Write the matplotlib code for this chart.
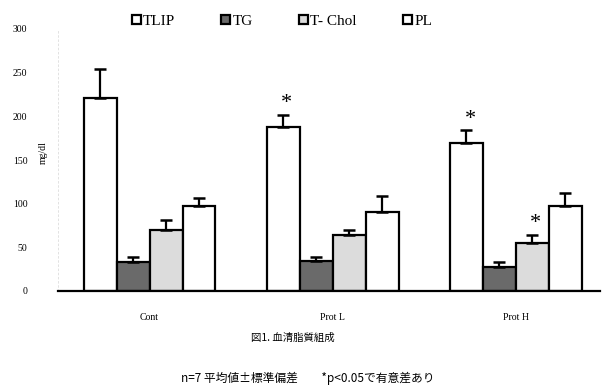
#血清脂質組成のグラフ
import matplotlib.pyplot as plt
import numpy as np

plt.rcParams['font.family'] = ['Liberation Serif', 'Noto Sans CJK JP', 'DejaVu Sans']

groups = ["Cont", "Prot L", "Prot H"]
series = ["TLIP", "TG", "T-Chol", "PL"]
means = {
    "TLIP": [221, 188, 169],
    "TG": [33, 34, 27],
    "T-Chol": [70, 64, 55],
    "PL": [97, 90, 97],
}
errs = {
    "TLIP": [33, 14, 15],
    "TG": [6, 5, 6],
    "T-Chol": [11, 6, 9],
    "PL": [9, 19, 15],
}
# 有意差のある棒 (系列, 群)
signif = [("TLIP", 1), ("TLIP", 2), ("T-Chol", 2)]

colors = {"TLIP": "white", "TG": "#6a6a6a", "T-Chol": "#dcdcdc", "PL": "white"}

fig = plt.figure(figsize=(6.03, 3.89), dpi=100)
ax = fig.add_axes([58 / 603, 1 - 291 / 389, 542 / 603, 262 / 389])

x = np.arange(len(groups))
w = 0.18
for i, s in enumerate(series):
    pos = x + (i - 1.5) * w
    ax.bar(pos, means[s], w, color=colors[s], edgecolor="black", linewidth=1.6,
           label=s.replace("-", "- "), zorder=2)
    ax.errorbar(pos, means[s], yerr=[np.zeros(3), errs[s]], fmt="none",
                ecolor="black", elinewidth=1.6, capsize=4, capthick=1.8, zorder=3)

for s, g in signif:
    i = series.index(s)
    top = means[s][g] + errs[s][g]
    ax.text(x[g] + (i - 1.5) * w + 0.02, top + 2, "*", fontsize=16,
            ha="center", va="bottom")

ax.set_xlim(-0.5, 2.46)
ax.set_ylim(0, 300)
ax.set_yticks(range(0, 301, 50))
ax.tick_params(axis="y", length=0, labelsize=7, pad=22)
ax.tick_params(axis="x", length=0, labelsize=7, pad=16)
ax.set_xticks(x)
ax.set_xticklabels(groups)
for sp in ["top", "right"]:
    ax.spines[sp].set_visible(False)
ax.spines["left"].set_color("#dddddd")
ax.spines["left"].set_linewidth(0.6)
ax.spines["left"].set_linestyle((0, (2, 3)))
ax.spines["bottom"].set_linewidth(1.6)

ax.text(-0.028, 0.53, "mg/dl", transform=ax.transAxes, rotation=90,
        fontsize=7, ha="center", va="center")

ax.legend(loc="upper center", bbox_to_anchor=(0.413, 1.107), ncol=4, frameon=False,
          fontsize=11, handlelength=0.6, handleheight=0.6, columnspacing=3.0,
          handletextpad=0.15)

fig.text(0.485, 1 - 338 / 389, "図1. 血清脂質組成", ha="center", va="center",
         fontsize=7.5, family=["Noto Sans CJK JP", "DejaVu Sans"])
fig.text(0.51, 1 - 378 / 389, "n=7 平均値±標準偏差　　*p<0.05で有意差あり",
         ha="center", va="center", fontsize=8.5,
         family=["Noto Sans CJK JP", "DejaVu Sans"])

fig.savefig("out.png", dpi=100)
